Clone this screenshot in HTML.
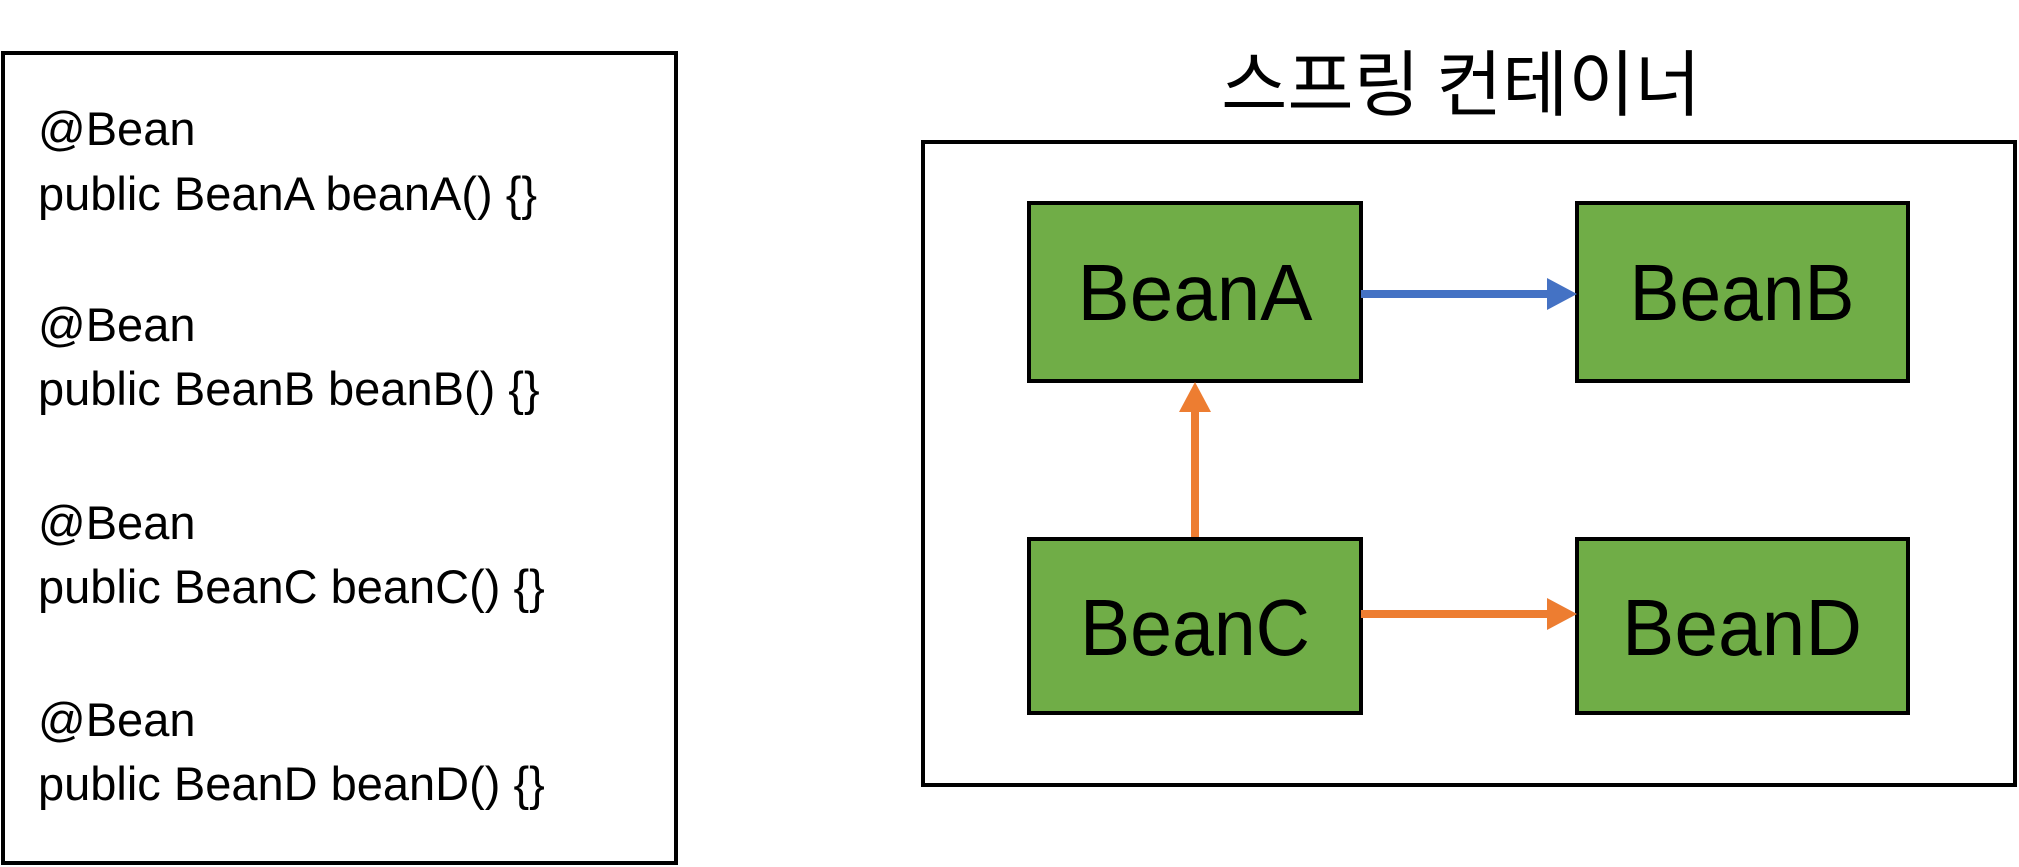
<!DOCTYPE html>
<html><head><meta charset="utf-8"><style>
html,body{margin:0;padding:0;background:#fff;}
body{width:2019px;height:867px;position:relative;overflow:hidden;font-family:"Liberation Sans","Noto Sans CJK KR",sans-serif;}
</style></head><body>
<svg width="2019" height="867" viewBox="0 0 2019 867" xmlns="http://www.w3.org/2000/svg" style="position:absolute;left:0;top:0">
<rect x="3" y="53" width="673" height="810" fill="#fff" stroke="#000" stroke-width="4"/>
<g font-family="Liberation Sans, sans-serif" font-size="47" fill="#000">
<text x="38" y="145">@Bean</text>
<text x="38" y="210">public BeanA beanA() {}</text>
<text x="38" y="341">@Bean</text>
<text x="38" y="405">public BeanB beanB() {}</text>
<text x="38" y="539">@Bean</text>
<text x="38" y="603">public BeanC beanC() {}</text>
<text x="38" y="736">@Bean</text>
<text x="38" y="800">public BeanD beanD() {}</text>
</g>
<text x="1461" y="110" text-anchor="middle" font-family="Noto Sans CJK KR, sans-serif" font-size="72" fill="#000">스프링 컨테이너</text>
<rect x="923" y="142" width="1092" height="643" fill="#fff" stroke="#000" stroke-width="4"/>
<g fill="#70AD47" stroke="#000" stroke-width="4">
<rect x="1029" y="203" width="332" height="178"/>
<rect x="1577" y="203" width="331" height="178"/>
<rect x="1029" y="539" width="332" height="174"/>
<rect x="1577" y="539" width="331" height="174"/>
</g>
<g font-family="Liberation Sans, sans-serif" font-size="80" fill="#000" text-anchor="middle">
<text x="1195" y="320" textLength="235" lengthAdjust="spacingAndGlyphs">BeanA</text>
<text x="1742" y="320" textLength="225" lengthAdjust="spacingAndGlyphs">BeanB</text>
<text x="1195" y="655" textLength="230" lengthAdjust="spacingAndGlyphs">BeanC</text>
<text x="1742" y="655" textLength="240" lengthAdjust="spacingAndGlyphs">BeanD</text>
</g>
<line x1="1361" y1="294" x2="1548" y2="294" stroke="#4472C4" stroke-width="8"/>
<polygon points="1577,294 1547,278 1547,310" fill="#4472C4"/>
<line x1="1361" y1="614" x2="1548" y2="614" stroke="#ED7D31" stroke-width="8"/>
<polygon points="1577,614 1547,598 1547,630" fill="#ED7D31"/>
<line x1="1195" y1="537" x2="1195" y2="410" stroke="#ED7D31" stroke-width="8"/>
<polygon points="1195,382 1179,412 1211,412" fill="#ED7D31"/>
</svg>
</body></html>
